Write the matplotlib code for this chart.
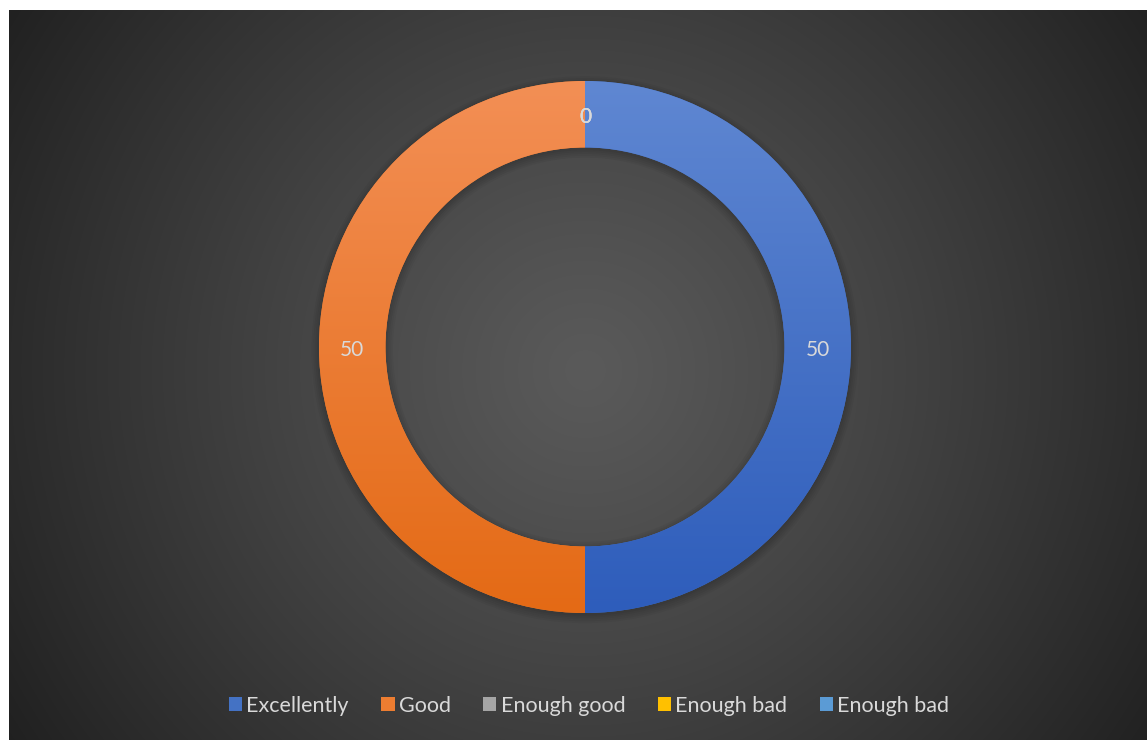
"""Donut chart: rating distribution on a dark radial-gradient panel."""

import numpy as np
import matplotlib
matplotlib.use("Agg")
import matplotlib.pyplot as plt
from matplotlib.patches import Patch, Wedge

# ---- data -----------------------------------------------------------------
categories = ["Excellently", "Good", "Enough good", "Enough bad", "Enough bad"]
values = [50, 50, 0, 0, 0]
colors = ["#4472c4", "#ed7d31", "#a5a5a5", "#ffc000", "#5b9bd5"]
# top / bottom tones of the gradient fill for each slice
grad_top = ["#5f87d2", "#f38f55", "#b5b5b5", "#ffcb3a", "#72abdc"]
grad_bot = ["#2e5dbb", "#e46a15", "#959595", "#eeb200", "#4a8bc7"]

TEXT = "#d9d9d9"
FONT = ["Lato", "DejaVu Sans"]

W, H = 1147, 740
fig = plt.figure(figsize=(W / 100, H / 100), dpi=100)
fig.patch.set_facecolor("white")

# ---- dark panel with radial gradient ---------------------------------------
px0, py0, pw, ph = 9, 0, W - 9, H - 10
bg = fig.add_axes([px0 / W, py0 / H, pw / W, ph / H])
bg.axis("off")
yy, xx = np.mgrid[0:ph, 0:pw]
d = np.hypot(xx - (585 - px0), yy - (370 - 10)) / 690.0
lvl = (90 - 58 * np.clip(d, 0, 1) ** 1.15) / 255.0
bg.imshow(np.dstack([lvl, lvl, lvl]), extent=[0, pw, ph, 0], aspect="auto",
          interpolation="bilinear")
bg.set_xlim(0, pw); bg.set_ylim(ph, 0)

# ---- donut -----------------------------------------------------------------
cx, cy, R = 585, 347, 266
ax = fig.add_axes([(cx - R) / W, (H - cy - R) / H, 2 * R / W, 2 * R / H])
ax.axis("off")
ring = 0.25

# soft shadow behind the ring
for k in range(5):
    ax.add_patch(Wedge((0.0, -0.01), 1.0 + 0.007 * k, 0, 360, width=ring + 0.014 * k,
                       facecolor="black", edgecolor="none", alpha=0.04, zorder=0,
                       clip_on=False))

wedges, _ = ax.pie(values, colors=colors, startangle=90, counterclock=False,
                   radius=1.0, wedgeprops=dict(width=ring, edgecolor="none"))

for w, v, top, bot in zip(wedges, values, grad_top, grad_bot):
    w.set_zorder(2)
    if v == 0:
        continue
    t = np.linspace(0, 1, 256)[:, None]
    c1 = np.array(matplotlib.colors.to_rgb(top))
    c2 = np.array(matplotlib.colors.to_rgb(bot))
    img = (c1 * (1 - t) + c2 * t)[:, None, :].repeat(2, axis=1)
    im = ax.imshow(img, extent=[-1, 1, -1, 1], origin="upper", aspect="auto",
                   interpolation="bilinear", zorder=3)
    im.set_clip_path(w)

# data labels in the middle of the ring
total = float(sum(values))
start = 90.0
rl = 1.0 - ring / 2
for v in values:
    mid = np.deg2rad(start - 360.0 * v / total / 2)
    ax.text(rl * np.cos(mid), rl * np.sin(mid) - 0.012, f"{v}", ha="center", va="center",
            color=TEXT, fontsize=15, family=FONT, zorder=5)
    start -= 360.0 * v / total

ax.set_xlim(-1, 1); ax.set_ylim(-1, 1)
ax.set_aspect("equal")

# ---- legend ----------------------------------------------------------------
handles = [Patch(facecolor=c, edgecolor="none") for c in colors]
leg = fig.legend(handles, categories, loc="center", bbox_to_anchor=(589 / W, 1 - 706 / H),
                 ncol=5, frameon=False, handlelength=0.62, handleheight=0.62,
                 handletextpad=0.2, columnspacing=1.5, prop=dict(family=FONT, size=15.5))
for t in leg.get_texts():
    t.set_color(TEXT)

fig.savefig("out.png", dpi=100)
